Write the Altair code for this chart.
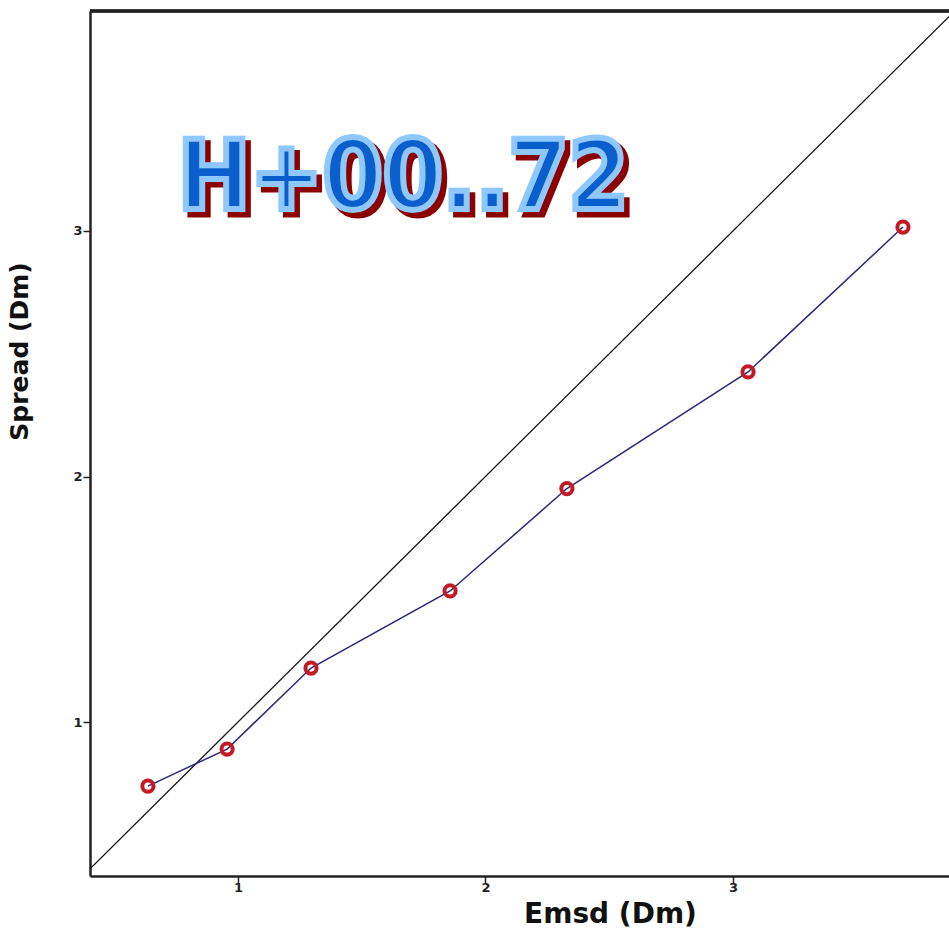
import altair as alt
import pandas as pd

emsd = [0.636, 0.956, 1.295, 1.857, 2.329, 3.061, 3.687]
spread = [0.739, 0.890, 1.220, 1.534, 1.951, 2.426, 3.016]
diag = [0.3, 4.0]
tick_vals = [1, 2, 3]
title_text = "H+00..72"

W, H = 859, 865
xdom = [0.402, 3.873]
ydom = [0.373, 3.896]

df = pd.DataFrame({"emsd": emsd, "spread": spread})
ddf = pd.DataFrame({"a": diag, "b": diag})

xs = alt.Scale(domain=xdom, nice=False, zero=False)
ys = alt.Scale(domain=ydom, nice=False, zero=False)

xax = alt.Axis(values=tick_vals, format="d", title="Emsd (Dm)", grid=False,
               domainColor="#222", domainWidth=2.5, tickColor="#222", tickSize=7,
               tickWidth=1.5, labelFontSize=13, labelFont="DejaVu Sans", labelFontWeight="bold",
               labelColor="#222", labelPadding=-2,
               titleFont="DejaVu Sans", titleFontSize=28, titleFontWeight="bold",
               titleColor="#111", titleX=520, titleY=24, titleAnchor="middle")
yax = alt.Axis(values=tick_vals, format="d", title="Spread (Dm)", grid=False,
               domainColor="#222", domainWidth=2.5, tickColor="#222", tickSize=7,
               tickWidth=1.5, labelFontSize=13, labelFont="DejaVu Sans", labelFontWeight="bold",
               labelColor="#222", labelPadding=1,
               titleFont="DejaVu Sans", titleFontSize=25, titleFontWeight="bold",
               titleColor="#111", titleX=-58, titleY=340, titleAngle=-90, titleAnchor="middle")

diag_line = alt.Chart(ddf).mark_line(color="#111", strokeWidth=1.3, clip=True).encode(
    x=alt.X("a:Q", scale=xs, axis=xax),
    y=alt.Y("b:Q", scale=ys, axis=yax),
)

series_line = alt.Chart(df).mark_line(color="#2a2a7a", strokeWidth=1.5, clip=True).encode(
    x=alt.X("emsd:Q", scale=xs),
    y=alt.Y("spread:Q", scale=ys),
)

pts = alt.Chart(df).mark_point(shape="circle", filled=False, color="#c41a26",
                               strokeWidth=4, size=125, opacity=1).encode(
    x=alt.X("emsd:Q", scale=xs),
    y=alt.Y("spread:Q", scale=ys),
)

top_rule = alt.Chart(df).mark_rule(color="#222", strokeWidth=2.5).encode(
    x=alt.value(0), x2=alt.value(W + 5), y=alt.value(0)
)

tdf = pd.DataFrame({"t": [title_text]})
font = "DejaVu Sans Condensed"
FS = 96
BX, BY = 88, 198
shadow = alt.Chart(tdf).mark_text(font=font, fontSize=FS, fontWeight="bold",
                                  color="#8b0000", stroke="#8b0000", strokeWidth=7,
                                  align="left", baseline="alphabetic").encode(
    x=alt.value(BX + 5), y=alt.value(BY + 5), text="t:N")
main = alt.Chart(tdf).mark_text(font=font, fontSize=FS, fontWeight="bold",
                                color="#0a5fcc", stroke="#8ec8ff", strokeWidth=6,
                                align="left", baseline="alphabetic").encode(
    x=alt.value(BX), y=alt.value(BY), text="t:N")

chart = alt.layer(diag_line, series_line, pts, top_rule, shadow, main).properties(
    width=W, height=H,
    autosize=alt.AutoSizeParams(type="none"),
    padding={"left": 90, "top": 11, "right": 0, "bottom": 58},
    background="white",
).configure_view(stroke=None)

chart.save("out.html", embed_options={"renderer": "svg", "actions": False})
